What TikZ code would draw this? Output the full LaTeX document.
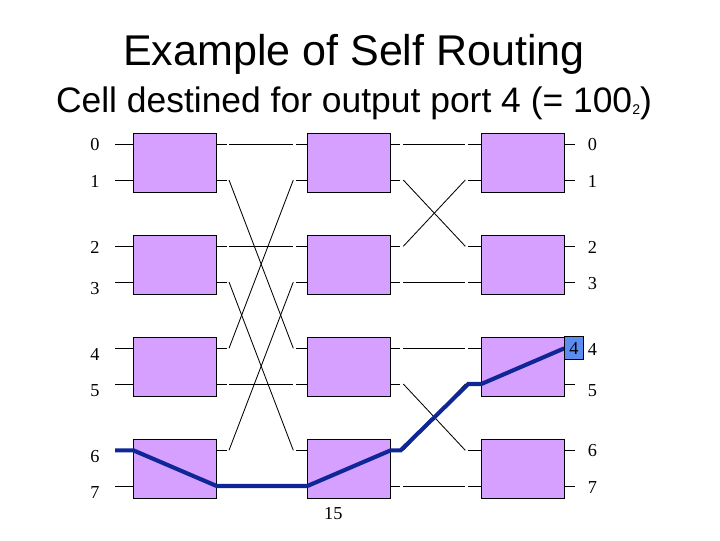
\documentclass[tikz,border=0pt]{standalone}
\usepackage{fontspec}
\setmainfont{Liberation Serif}
\newfontfamily\headsans{Liberation Sans}
\usetikzlibrary{calc}
\definecolor{boxpurple}{RGB}{213,160,255}
\definecolor{tagblue}{RGB}{92,140,240}
\definecolor{routeblue}{RGB}{14,38,150}
\tikzset{
  swbox/.style={draw=black, line width=0.7pt, fill=boxpurple, inner sep=0pt,
    minimum width=2.085cm, minimum height=1.475cm},
  wire/.style={black, line width=0.6pt},
  route/.style={routeblue, line width=2.9pt},
  portlabel/.style={anchor=base, inner sep=0pt, font=\fontsize{13}{15}\selectfont},
  tagbox/.style={draw=black, line width=0.7pt, fill=tagblue, inner sep=0pt,
    minimum width=0.4575cm, minimum height=0.575cm, font=\fontsize{13}{15}\selectfont}
}
\begin{document}
\begin{tikzpicture}[x=0.025cm,y=-0.025cm]
    \useasboundingbox (0,0) rectangle (720,540);
    % headings
    \node [anchor=base, font={\headsans\fontsize{30.6}{36}\selectfont}] (title) at (354,65) {Example of Self Routing};
    \node [anchor=base, font={\headsans\fontsize{25.2}{30}\selectfont}] (subtitle) at (354,112) {Cell destined for output port 4 (= 100\raisebox{-1.5pt}{\fontsize{10}{10}\selectfont 2})};
    % port positions
    \foreach \p/\y in {0/144.3,1/180,2/246.3,3/282,4/348.3,5/384,6/450.3,7/486} {
      \coordinate (src\p) at (115,\y);
      \coordinate (in1-\p) at (133.3,\y);
      \coordinate (out1-\p) at (216.7,\y);
      \coordinate (in2-\p) at (307.3,\y);
      \coordinate (out2-\p) at (390.7,\y);
      \coordinate (in3-\p) at (481.3,\y);
      \coordinate (out3-\p) at (564.3,\y);
      \coordinate (dst\p) at (575,\y);
      \draw [wire] (src\p) -- (in1-\p);
      \draw [wire] (out3-\p) -- (dst\p);
    }
    % stage 1 to stage 2
    \foreach \p/\q in {0/0,1/4,2/2,3/6,4/1,5/5,6/3,7/7} {
      \draw [wire] (out1-\p) -- ++(10,0);
      \draw [wire] ($(out1-\p)+(12.3,0)$) -- ($(in2-\q)+(-14,0)$);
      \draw [wire] ($(in2-\q)+(-11.3,0)$) -- (in2-\q);
    }
    % stage 2 to stage 3
    \foreach \p/\q in {0/0,1/2,2/1,3/3,4/4,5/6,6/5,7/7} {
      \draw [wire] (out2-\p) -- ++(9.3,0);
      \draw [wire] ($(out2-\p)+(12.6,0)$) -- ($(in3-\q)+(-16,0)$);
      \draw [wire] ($(in3-\q)+(-13,0)$) -- (in3-\q);
    }
    % switch elements
    \node [swbox] (a0) at (175,162.8) {};
    \node [swbox] (a1) at (175,264.8) {};
    \node [swbox] (a2) at (175,366.8) {};
    \node [swbox] (a3) at (175,468.8) {};
    \node [swbox] (b0) at (349,162.8) {};
    \node [swbox] (b1) at (349,264.8) {};
    \node [swbox] (b2) at (349,366.8) {};
    \node [swbox] (b3) at (349,468.8) {};
    \node [swbox] (c0) at (522.8,162.8) {};
    \node [swbox] (c1) at (522.8,264.8) {};
    \node [swbox] (c2) at (522.8,366.8) {};
    \node [swbox] (c3) at (522.8,468.8) {};
    % path of the cell
    \draw [route] (src6) -- (in1-6) -- (out1-7) -- (in2-7) -- (out2-6) -- ++(10,0)
      -- ($(in3-5)+(-13,0)$) -- (in3-5) -- (out3-4);
    \node [tagbox, anchor=west] (tag) at (out3-4) {4};
    % port numbers
    \node [portlabel] (l0) at (95,150.7) {0};
    \node [portlabel] (l1) at (95,187.3) {1};
    \node [portlabel] (l2) at (95,253.3) {2};
    \node [portlabel] (l3) at (95,294.3) {3};
    \node [portlabel] (l4) at (95,360) {4};
    \node [portlabel] (l5) at (95,396.7) {5};
    \node [portlabel] (l6) at (95,462.7) {6};
    \node [portlabel] (l7) at (95,498.3) {7};
    \node [portlabel] (r0) at (592.5,150.7) {0};
    \node [portlabel] (r1) at (592.5,187.3) {1};
    \node [portlabel] (r2) at (592.5,253.3) {2};
    \node [portlabel] (r3) at (592.5,289) {3};
    \node [portlabel] (r4) at (592.5,355) {4};
    \node [portlabel] (r5) at (592.5,396.7) {5};
    \node [portlabel] (r6) at (592.5,456.7) {6};
    \node [portlabel] (r7) at (592.5,493.3) {7};
    \node [portlabel] (cnt) at (333.3,519) {15};
\end{tikzpicture}
\end{document}
